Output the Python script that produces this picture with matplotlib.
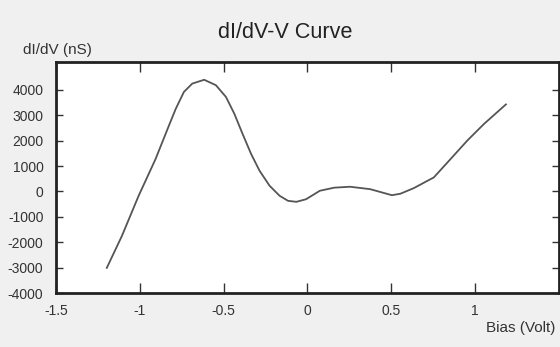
import matplotlib
matplotlib.use("Agg")
from matplotlib import pyplot as plt

# dI/dV vs bias
bias = [-1.197, -1.107, -1.007, -0.906, -0.826, -0.786, -0.737, -0.687, -0.616,
        -0.546, -0.486, -0.436, -0.387, -0.336, -0.286, -0.226, -0.166, -0.116,
        -0.066, -0.008, 0.074, 0.16, 0.254, 0.374, 0.504, 0.554, 0.634,
        0.754, 0.854, 0.954, 1.054, 1.184]
didv = [-3010, -1754, -170, 1279, 2600, 3250, 3921, 4250, 4400,
        4186, 3723, 3061, 2269, 1477, 820, 226, -170, -368,
        -408, -305, 28, 150, 186, 91, -147, -90, 130,
        554, 1279, 2008, 2665, 3430]

xticks = [-1.5, -1, -0.5, 0, 0.5, 1]
xlabels = ["-1.5", "-1", "-0.5", "0", "0.5", "1"]
yticks = [4000, 3000, 2000, 1000, 0, -1000, -2000, -3000, -4000]

plt.rcParams['font.family'] = ['Liberation Sans', 'DejaVu Sans']

fig = plt.figure(figsize=(5.6, 3.47), dpi=100, facecolor="#f0f0f0")
ax = fig.add_axes([0.1, 0.1556, 0.898, 0.6657])
ax.set_facecolor("white")
ax.plot(bias, didv, c="#555555", lw=1.3)

ax.set_xlim(-1.5, 1.5)
ax.set_ylim(-4000, 5100)
ax.set_xticks(xticks)
ax.set_xticklabels(xlabels)
ax.set_yticks(yticks)
ax.set_yticklabels([str(v) for v in yticks])
ax.tick_params(axis="x", direction="in", length=7, width=1, top=True,
               pad=8, labelsize=10, labelcolor="#333333", color="#333333")
ax.tick_params(axis="y", direction="in", length=5, width=1, right=True,
               pad=9, labelsize=10, labelcolor="#333333", color="#333333")
for s in ax.spines.values():
    s.set_linewidth(2)
    s.set_color("#222222")

fig.text(0.509, 0.905, "dI/dV-V Curve", fontsize=15.6, ha="center", va="center",
         color="#222222")
fig.text(0.102, 0.857, "dI/dV (nS)", fontsize=11, ha="center", va="center",
         color="#333333")
fig.text(0.929, 0.055, "Bias (Volt)", fontsize=11, ha="center", va="center",
         color="#333333")

fig.savefig("out.png", dpi=100, facecolor=fig.get_facecolor())
